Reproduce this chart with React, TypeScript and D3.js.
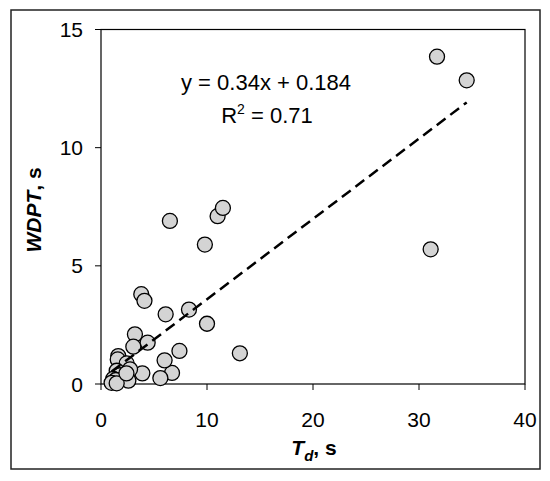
import React from 'react';
import * as d3 from 'd3';

// Data
const tdValues = [31.7, 34.5, 31.1, 6.5, 11.0, 11.5, 9.8, 8.3, 6.1, 10.0, 13.1, 7.4, 6.7, 6.0, 5.6,
  3.8, 4.1, 4.4, 3.2, 3.05, 3.9, 1.63, 1.58, 2.42, 2.74, 1.48, 1.79, 1.16, 2.26, 1.4, 1.0, 2.58, 1.48, 2.4];
const wdptValues = [13.85, 12.85, 5.7, 6.9, 7.1, 7.45, 5.9, 3.15, 2.95, 2.55, 1.3, 1.4, 0.47, 1.0, 0.25,
  3.8, 3.52, 1.75, 2.1, 1.58, 0.45, 1.18, 1.04, 0.87, 0.62, 0.56, 0.37, 0.22, 0.24, 0.17, 0.05, 0.14, 0.03, 0.45];
const xTicks = [0, 10, 20, 30, 40];
const yTicks = [0, 5, 10, 15];
const slope = 0.34;
const intercept = 0.184;
const equationText = 'y = 0.34x + 0.184';
const r2Text = ' = 0.71';

const FONT = "Arial, 'Liberation Sans', sans-serif";

export default function App() {
  const W = 550, H = 481;
  const left = 101, right = 525, top = 29.5, bottom = 384;
  const x = d3.scaleLinear().domain([0, 40]).range([left, right]);
  const y = d3.scaleLinear().domain([0, 15]).range([bottom, top]);
  const points = tdValues.map((t, i) => ({ t, w: wdptValues[i] }));
  const xMin = d3.min(tdValues) as number;
  const xMax = d3.max(tdValues) as number;
  const line = d3.line<number>().x(d => x(d)).y(d => y(slope * d + intercept));

  return (
    <svg width={W} height={H} style={{ position: 'absolute', left: 0, top: 0, background: '#fff' }}
      fontFamily={FONT}>
      <rect x={11} y={10} width={529} height={459} fill="#fff" stroke="#222" strokeWidth={1.5} />
      <rect x={left} y={top} width={right - left} height={bottom - top} fill="#fff" stroke="#000" strokeWidth={1.2} />
      {xTicks.map(v => (
        <g key={'x' + v}>
          <line x1={x(v)} x2={x(v)} y1={bottom} y2={bottom + 6} stroke="#000" strokeWidth={1} />
          <text x={x(v)} y={427} textAnchor="middle" fontSize={21} fill="#000">{v}</text>
        </g>
      ))}
      {yTicks.map(v => (
        <g key={'y' + v}>
          <line x1={left - 6} x2={left} y1={y(v)} y2={y(v)} stroke="#000" strokeWidth={1} />
          <text x={83} y={y(v) + 7.5} textAnchor="end" fontSize={21} fill="#000">{v}</text>
        </g>
      ))}
      {points.map((p, i) => (
        <circle key={i} cx={x(p.t)} cy={y(p.w)} r={7.5} fill="#d4d4d4" stroke="#000" strokeWidth={1.3} />
      ))}
      <path d={line([xMin, xMax]) || ''} fill="none" stroke="#000" strokeWidth={2.5} strokeDasharray="11,6" />
      <text x={266} y={90} textAnchor="middle" fontSize={22} fill="#000">{equationText}</text>
      <text x={267} y={122.5} textAnchor="middle" fontSize={22} fill="#000">
        R<tspan dy={-9} fontSize={14}>2</tspan><tspan dy={9}>{r2Text}</tspan>
      </text>
      <text x={314} y={455} textAnchor="middle" fontSize={21} fontWeight="bold" fill="#000">
        <tspan fontStyle="italic">T</tspan><tspan fontStyle="italic" fontSize={15} dy={6}>d</tspan><tspan dy={-6}>, s</tspan>
      </text>
      <text transform="translate(41,210) rotate(-90)" textAnchor="middle" fontSize={21} fontWeight="bold" fill="#000">
        <tspan fontStyle="italic">WDPT</tspan><tspan>, s</tspan>
      </text>
    </svg>
  );
}
